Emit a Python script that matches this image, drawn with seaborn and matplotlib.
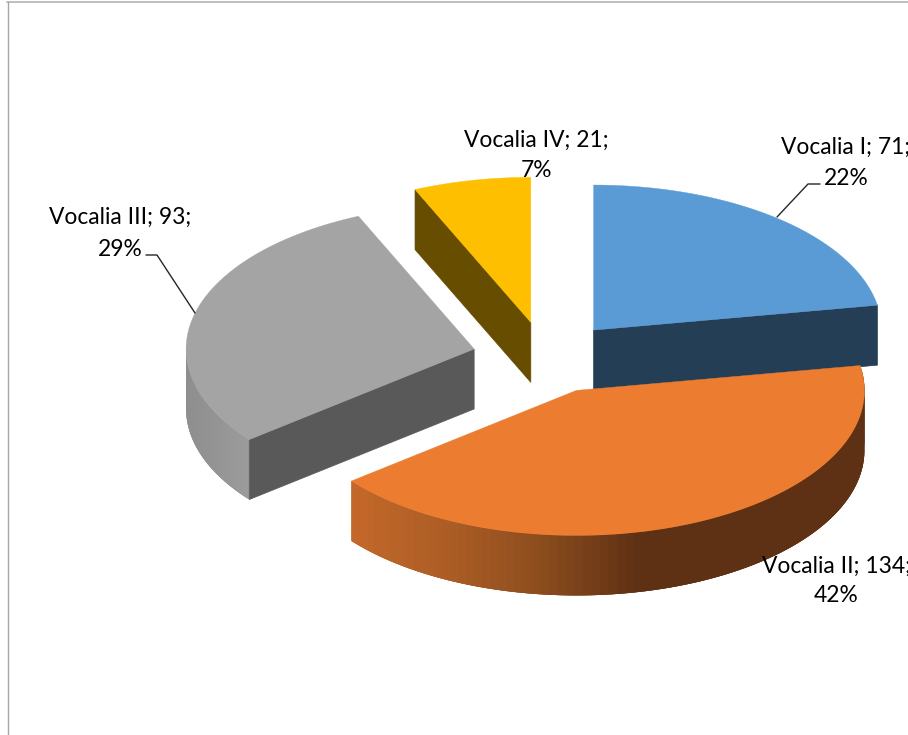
import numpy as np
import seaborn as sns
import matplotlib.pyplot as plt
from matplotlib.colors import to_rgb

sns.set_theme(style='white')
plt.rcParams['font.family'] = ['Lato', 'DejaVu Sans']

nombres = ['Vocalia I', 'Vocalia II', 'Vocalia III', 'Vocalia IV']
valores = [71, 134, 93, 21]
colores = ['#5B9BD5', '#EC7C30', '#A4A4A4', '#FDBF00']
caras = ['#243F55', '#5F3114', '#595959', '#664D00']

# geometria del pastel en pixeles
cx0, cy0 = 546, 357.6
ra, rb = 288, 145
alto = 60
expl_x, expl_y = 74, 36

# centro del texto y de cada linea (x, y1, y2)
pos_texto = [(846, 147, 178), (836, 566, 596), (120, 217, 249), (536, 140, 170)]
guias = [
    ([820, 808, 777], [184, 184, 217]),
    ([146, 157, 195], [255, 255, 313]),
]

palette = sns.color_palette(colores)
total = sum(valores)
fracs = np.array(valores) / total * 360
ini = np.concatenate([[0], np.cumsum(fracs)[:-1]])
fin = ini + fracs


def punto(c, t):
    r = np.radians(t)
    return c[0] + ra * np.sin(r), c[1] - rb * np.cos(r)


def centro(i):
    m = np.radians((ini[i] + fin[i]) / 2)
    return cx0 + expl_x * np.sin(m), cy0 - expl_y * np.cos(m)


def mezcla(tramos, x):
    xs = [p[0] for p in tramos]
    rgb = np.array([to_rgb(p[1]) for p in tramos])
    return [np.interp(x, xs, rgb[:, k]) for k in range(3)]


def cara(ax, c, t, color, z):
    x, y = punto(c, t)
    ax.fill([c[0], x, x, c[0]], [c[1], y, y + alto, c[1] + alto], color=color, lw=0.5, zorder=z)


def borde(ax, c, t0, t1, tramos, z):
    # cada tira se solapa con la siguiente para que no se vean costuras
    ts = np.linspace(t0, t1, 90)
    for k in range(len(ts) - 1):
        tira = np.linspace(ts[k], ts[min(k + 3, len(ts) - 1)], 5)
        xs, ys = punto(c, tira)
        col = mezcla(tramos, xs[0])
        ax.fill(np.r_[xs, xs[::-1]], np.r_[ys, ys[::-1] + alto], color=col, lw=0, zorder=z)


def tapa(ax, c, t0, t1, color, z):
    ts = np.linspace(t0, t1, 200)
    xs, ys = punto(c, ts)
    ax.fill(np.r_[c[0], xs], np.r_[c[1], ys], color=color, lw=0.3, zorder=z)


fig = plt.figure(figsize=(9.08, 7.35), dpi=100)
ax = fig.add_axes([0, 0, 1, 1])
ax.set_xlim(0, 908)
ax.set_ylim(735, 0)
ax.axis('off')

ax.plot([7, 908], [2, 2], color='#BFBFBF', lw=1.4, zorder=1)
ax.plot([8, 8], [2, 735], color='#A6A6A6', lw=1.0, zorder=1)

# amarillo
c = centro(3)
cara(ax, c, ini[3], caras[3], 2)
tapa(ax, c, ini[3], fin[3], palette[3], 3)

# gris
c = centro(2)
borde(ax, c, ini[2], 272, [(186, '#8E8E8E'), (249, '#9B9B9B')], 4)
cara(ax, c, ini[2], caras[2], 5)
tapa(ax, c, ini[2], fin[2], palette[2], 6)

# azul
c = centro(0)
cara(ax, c, fin[0], caras[0], 7)
tapa(ax, c, ini[0], fin[0], palette[0], 8)

# naranja
c = centro(1)
borde(ax, c, ini[1], fin[1], [(350, '#C5692A'), (450, '#AC5D25'), (540, '#8E4E1E'), (640, '#5F3114'), (870, '#5F3114')], 9)
tapa(ax, c, ini[1], fin[1], palette[1], 10)

for gx, gy in guias:
    ax.plot(gx, gy, color='#262626', lw=1.0, zorder=11)

for nombre, v, (x, y1, y2) in zip(nombres, valores, pos_texto):
    ax.text(x, y1, f'{nombre}; {v};', ha='center', va='center', fontsize=16.4, color='black', zorder=12)
    ax.text(x, y2, f'{round(v / total * 100)}%', ha='center', va='center', fontsize=16.4, color='black', zorder=12)

fig.savefig('out.png', dpi=100, facecolor='white')
